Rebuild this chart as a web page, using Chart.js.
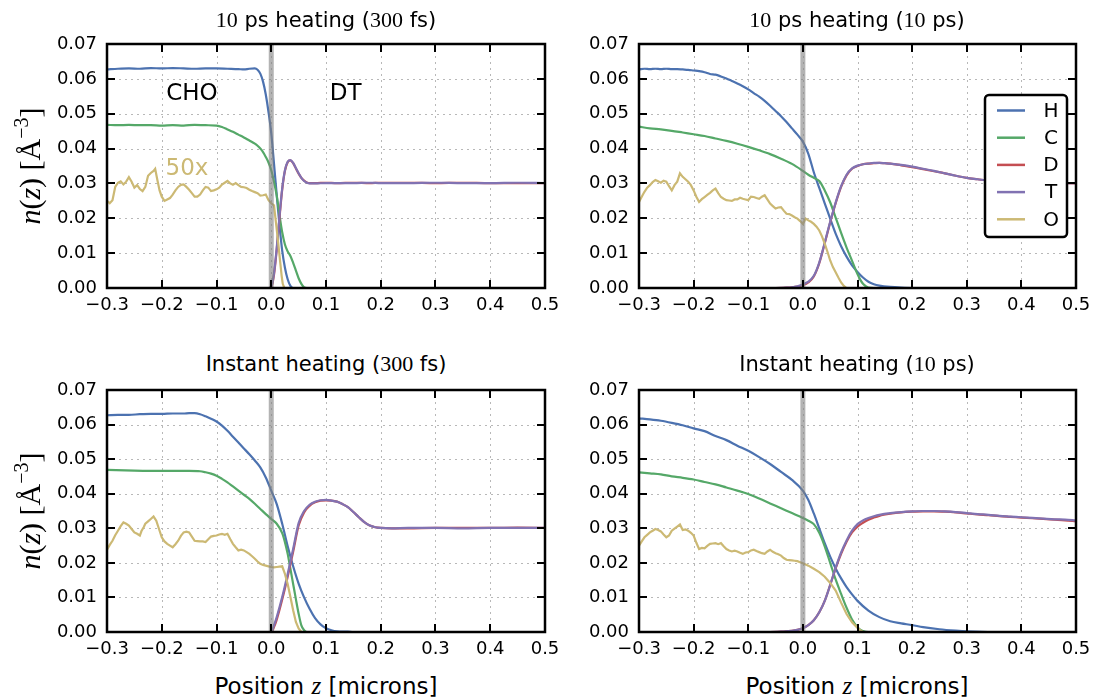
<!DOCTYPE html>
<html>
<head>
<meta charset="utf-8">
<script src="https://cdn.jsdelivr.net/npm/chart.js@4.4.0/dist/chart.umd.min.js"></script>
<style>
html,body{margin:0;padding:0;background:#fff;}
#wrap{position:relative;width:1097px;height:700px;overflow:hidden;font-family:"DejaVu Sans",sans-serif;color:#000;}
canvas{position:absolute;}
.title{position:absolute;font-family:"DejaVu Sans",sans-serif;font-size:21px;line-height:24px;white-space:nowrap;transform:translate(-50%,-50%);z-index:5;}
.s{font-family:"DejaVu Sans",sans-serif;font-size:21px;}
.m{font-family:"Liberation Serif",serif;font-size:22px;}
.ylab{position:absolute;white-space:nowrap;font-family:"Liberation Serif",serif;font-size:30px;line-height:32px;transform:translate(-50%,-50%) rotate(-90deg);z-index:5;}
.ylab sup{font-size:20px;vertical-align:12px;line-height:0;}
.xlab{position:absolute;white-space:nowrap;font-family:"DejaVu Sans",sans-serif;font-size:23px;line-height:26px;transform:translate(-50%,-50%);z-index:5;}
.xlab i{font-family:"Liberation Serif",serif;font-size:25px;}
</style>
</head>
<body>
<div id="wrap">
  <canvas id="c1"></canvas><canvas id="c2"></canvas><canvas id="c3"></canvas><canvas id="c4"></canvas>
  <div class="title" style="left:326px;top:20px;"><span class="m">10</span><span class="s"> ps heating (</span><span class="m">300</span><span class="s"> fs)</span></div>
  <div class="title" style="left:857px;top:20px;"><span class="m">10</span><span class="s"> ps heating (</span><span class="m">10</span><span class="s"> ps)</span></div>
  <div class="title" style="left:326px;top:364px;"><span class="s">Instant heating (</span><span class="m">300</span><span class="s"> fs)</span></div>
  <div class="title" style="left:857px;top:364px;"><span class="s">Instant heating (</span><span class="m">10</span><span class="s"> ps)</span></div>
  <div class="ylab" style="left:30px;top:166px;"><i>n</i>(<i>z</i>) [Å<sup>−3</sup>]</div>
  <div class="ylab" style="left:30px;top:511px;"><i>n</i>(<i>z</i>) [Å<sup>−3</sup>]</div>
  <div class="xlab" style="left:326px;top:686px;">Position <i>z</i> [microns]</div>
  <div class="xlab" style="left:857px;top:686px;">Position <i>z</i> [microns]</div>
</div>
<script>
// ---------------- DATA ----------------
const X_TICKS = [-0.3,-0.2,-0.1,0.0,0.1,0.2,0.3,0.4,0.5];
const Y_TICKS = [0.00,0.01,0.02,0.03,0.04,0.05,0.06,0.07];
const SPECIES = ['H','C','D','T','O'];
const BAND_X = 0.0;

// Panel 1: 10 ps heating (300 fs)
const H_1 = [[-0.30,0.0627],[-0.28,0.0629],[-0.26,0.0630],[-0.24,0.0629],[-0.22,0.0631],[-0.20,0.0630],[-0.18,0.0631],[-0.16,0.0630],[-0.14,0.0629],[-0.12,0.0630],[-0.10,0.0630],[-0.08,0.0629],[-0.06,0.0628],[-0.05,0.0627],[-0.04,0.0629],[-0.03,0.0630],[-0.025,0.0626],[-0.02,0.0615],[-0.015,0.0592],[-0.01,0.0555],[-0.005,0.0505],[0.0,0.0444],[0.005,0.0357],[0.01,0.0267],[0.015,0.0181],[0.02,0.0107],[0.025,0.0058],[0.03,0.0025],[0.035,0.0006],[0.04,0.0],[0.5,0.0]];
const C_1 = [[-0.30,0.0468],[-0.28,0.0467],[-0.26,0.0468],[-0.24,0.0467],[-0.22,0.0467],[-0.20,0.0466],[-0.18,0.0467],[-0.16,0.0466],[-0.14,0.0468],[-0.12,0.0467],[-0.10,0.0466],[-0.09,0.0462],[-0.08,0.0455],[-0.07,0.0448],[-0.06,0.0440],[-0.05,0.0432],[-0.04,0.0423],[-0.03,0.0414],[-0.025,0.0408],[-0.02,0.0400],[-0.015,0.0390],[-0.01,0.0376],[-0.005,0.0360],[0.0,0.0338],[0.005,0.0305],[0.01,0.0265],[0.015,0.0210],[0.02,0.0160],[0.025,0.0125],[0.03,0.0105],[0.035,0.0092],[0.04,0.0072],[0.045,0.0050],[0.05,0.0028],[0.055,0.0012],[0.06,0.0002],[0.065,0.0],[0.5,0.0]];
const D_1 = [[-0.30,0.0],[-0.005,0.0],[0.0,0.0003],[0.005,0.0038],[0.01,0.0110],[0.015,0.0200],[0.02,0.0282],[0.025,0.0336],[0.03,0.0361],[0.035,0.0366],[0.04,0.0358],[0.045,0.0343],[0.05,0.0328],[0.055,0.0316],[0.06,0.0308],[0.065,0.0303],[0.07,0.0301],[0.08,0.0301],[0.10,0.0302],[0.12,0.0301],[0.15,0.0302],[0.18,0.0301],[0.20,0.0302],[0.25,0.0302],[0.30,0.0301],[0.35,0.0302],[0.40,0.0301],[0.45,0.0301],[0.50,0.0301]];
const T_1 = [[-0.30,0.0],[-0.005,0.0],[0.0,0.0004],[0.005,0.0042],[0.01,0.0115],[0.015,0.0205],[0.02,0.0286],[0.025,0.0338],[0.03,0.0362],[0.035,0.0367],[0.04,0.0359],[0.045,0.0344],[0.05,0.0329],[0.055,0.0316],[0.06,0.0307],[0.065,0.0302],[0.07,0.0300],[0.08,0.0300],[0.10,0.0301],[0.12,0.0301],[0.15,0.0301],[0.18,0.0302],[0.20,0.0301],[0.25,0.0301],[0.30,0.0302],[0.35,0.0301],[0.40,0.0301],[0.45,0.0302],[0.50,0.0301]];
const O_1 = [[-0.300,0.0250],[-0.295,0.0243],[-0.290,0.0252],[-0.285,0.0290],[-0.280,0.0302],[-0.275,0.0306],[-0.270,0.0297],[-0.265,0.0305],[-0.260,0.0318],[-0.255,0.0305],[-0.250,0.0288],[-0.245,0.0295],[-0.240,0.0284],[-0.235,0.0278],[-0.230,0.0290],[-0.225,0.0322],[-0.220,0.0330],[-0.215,0.0336],[-0.212,0.0342],[-0.208,0.0310],[-0.204,0.0280],[-0.200,0.0262],[-0.195,0.0250],[-0.190,0.0254],[-0.185,0.0258],[-0.180,0.0268],[-0.175,0.0280],[-0.170,0.0290],[-0.165,0.0296],[-0.160,0.0297],[-0.155,0.0290],[-0.150,0.0282],[-0.145,0.0272],[-0.140,0.0262],[-0.135,0.0262],[-0.130,0.0268],[-0.125,0.0280],[-0.120,0.0290],[-0.115,0.0288],[-0.110,0.0278],[-0.105,0.0280],[-0.100,0.0283],[-0.095,0.0288],[-0.090,0.0297],[-0.085,0.0302],[-0.080,0.0307],[-0.075,0.0300],[-0.070,0.0296],[-0.065,0.0301],[-0.060,0.0295],[-0.055,0.0290],[-0.050,0.0289],[-0.045,0.0287],[-0.040,0.0282],[-0.035,0.0278],[-0.030,0.0275],[-0.025,0.0272],[-0.020,0.0265],[-0.015,0.0266],[-0.010,0.0268],[-0.005,0.0252],[0.000,0.0243],[0.005,0.0237],[0.0095,0.0175],[0.013,0.0125],[0.016,0.0079],[0.019,0.0035],[0.021,0.0012],[0.024,0.0],[0.5,0.0]];

// Panel 2: 10 ps heating (10 ps)
const H_2 = [[-0.30,0.0627],[-0.29,0.0629],[-0.28,0.0628],[-0.27,0.0629],[-0.26,0.0628],[-0.25,0.0629],[-0.24,0.0628],[-0.23,0.0628],[-0.22,0.0627],[-0.21,0.0626],[-0.20,0.0624],[-0.19,0.0622],[-0.18,0.0619],[-0.17,0.0614],[-0.16,0.0612],[-0.15,0.0607],[-0.14,0.0601],[-0.13,0.0594],[-0.12,0.0587],[-0.11,0.0579],[-0.10,0.0570],[-0.09,0.0559],[-0.08,0.0549],[-0.07,0.0537],[-0.06,0.0523],[-0.05,0.0508],[-0.04,0.0493],[-0.03,0.0476],[-0.02,0.0458],[-0.01,0.0440],[0.00,0.0420],[0.01,0.0385],[0.02,0.0332],[0.03,0.0287],[0.04,0.0243],[0.05,0.0199],[0.06,0.0156],[0.07,0.0120],[0.08,0.0090],[0.09,0.0065],[0.10,0.0046],[0.11,0.0030],[0.12,0.0018],[0.13,0.0011],[0.14,0.0007],[0.16,0.0003],[0.18,0.0001],[0.20,0.0],[0.50,0.0]];
const C_2 = [[-0.30,0.0463],[-0.28,0.0458],[-0.26,0.0455],[-0.24,0.0451],[-0.22,0.0446],[-0.20,0.0441],[-0.18,0.0436],[-0.16,0.0429],[-0.14,0.0422],[-0.12,0.0414],[-0.10,0.0405],[-0.08,0.0395],[-0.06,0.0384],[-0.04,0.0371],[-0.02,0.0356],[0.00,0.0336],[0.01,0.0325],[0.02,0.0316],[0.03,0.0307],[0.04,0.0280],[0.05,0.0246],[0.06,0.0202],[0.07,0.0158],[0.08,0.0116],[0.09,0.0078],[0.10,0.0040],[0.105,0.0024],[0.11,0.0012],[0.115,0.0005],[0.12,0.0001],[0.13,0.0],[0.50,0.0]];
const D_2 = [[-0.30,0.0],[-0.05,0.0],[-0.03,0.0001],[-0.02,0.0002],[-0.01,0.0004],[0.00,0.0008],[0.01,0.0016],[0.02,0.0033],[0.03,0.0071],[0.04,0.0128],[0.05,0.0188],[0.06,0.0243],[0.07,0.0290],[0.08,0.0323],[0.09,0.0342],[0.10,0.0350],[0.11,0.0355],[0.12,0.0357],[0.13,0.0358],[0.14,0.0359],[0.15,0.0358],[0.16,0.0357],[0.18,0.0352],[0.20,0.0347],[0.22,0.0341],[0.24,0.0335],[0.26,0.0329],[0.28,0.0322],[0.30,0.0316],[0.32,0.0312],[0.34,0.0308],[0.36,0.0305],[0.38,0.0303],[0.40,0.0302],[0.45,0.0301],[0.50,0.0300]];
const T_2 = [[-0.30,0.0],[-0.05,0.0],[-0.03,0.0001],[-0.02,0.0002],[-0.01,0.0005],[0.00,0.0010],[0.01,0.0018],[0.02,0.0035],[0.03,0.0073],[0.04,0.0130],[0.05,0.0190],[0.06,0.0245],[0.07,0.0292],[0.08,0.0325],[0.09,0.0343],[0.10,0.0351],[0.11,0.0355],[0.12,0.0357],[0.13,0.0359],[0.14,0.0359],[0.15,0.0358],[0.16,0.0357],[0.18,0.0353],[0.20,0.0348],[0.22,0.0342],[0.24,0.0336],[0.26,0.0329],[0.28,0.0322],[0.30,0.0316],[0.32,0.0312],[0.34,0.0308],[0.36,0.0305],[0.38,0.0303],[0.40,0.0302],[0.45,0.0301],[0.50,0.0301]];
const O_2 = [[-0.300,0.0247],[-0.295,0.0262],[-0.290,0.0276],[-0.285,0.0288],[-0.280,0.0295],[-0.275,0.0304],[-0.270,0.0310],[-0.265,0.0306],[-0.260,0.0302],[-0.255,0.0308],[-0.250,0.0305],[-0.245,0.0292],[-0.240,0.0280],[-0.235,0.0295],[-0.230,0.0305],[-0.225,0.0329],[-0.220,0.0319],[-0.215,0.0312],[-0.210,0.0305],[-0.205,0.0295],[-0.200,0.0280],[-0.195,0.0262],[-0.190,0.0247],[-0.185,0.0255],[-0.180,0.0261],[-0.175,0.0267],[-0.170,0.0273],[-0.165,0.0280],[-0.160,0.0285],[-0.155,0.0272],[-0.150,0.0261],[-0.145,0.0256],[-0.140,0.0252],[-0.135,0.0251],[-0.130,0.0250],[-0.125,0.0254],[-0.120,0.0254],[-0.115,0.0259],[-0.110,0.0256],[-0.105,0.0254],[-0.100,0.0252],[-0.095,0.0262],[-0.090,0.0261],[-0.085,0.0258],[-0.080,0.0256],[-0.075,0.0262],[-0.070,0.0266],[-0.065,0.0254],[-0.060,0.0242],[-0.055,0.0235],[-0.050,0.0228],[-0.045,0.0231],[-0.040,0.0232],[-0.035,0.0222],[-0.030,0.0213],[-0.025,0.0212],[-0.020,0.0208],[-0.015,0.0203],[-0.010,0.0199],[-0.005,0.0192],[0.000,0.0184],[0.005,0.0199],[0.010,0.0194],[0.015,0.0190],[0.020,0.0184],[0.025,0.0176],[0.030,0.0165],[0.035,0.0148],[0.040,0.0127],[0.045,0.0104],[0.050,0.0079],[0.055,0.0060],[0.060,0.0045],[0.065,0.0030],[0.070,0.0016],[0.075,0.0006],[0.080,0.0],[0.50,0.0]];

// Panel 3: Instant heating (300 fs)
const H_3 = [[-0.30,0.0627],[-0.28,0.0628],[-0.26,0.0628],[-0.24,0.0630],[-0.22,0.0631],[-0.20,0.0631],[-0.18,0.0632],[-0.16,0.0632],[-0.15,0.0633],[-0.14,0.0633],[-0.13,0.0630],[-0.12,0.0624],[-0.11,0.0617],[-0.10,0.0609],[-0.09,0.0597],[-0.08,0.0582],[-0.07,0.0565],[-0.06,0.0548],[-0.05,0.0531],[-0.04,0.0514],[-0.03,0.0496],[-0.02,0.0476],[-0.01,0.0447],[0.00,0.0409],[0.01,0.0370],[0.02,0.0313],[0.03,0.0248],[0.04,0.0190],[0.05,0.0140],[0.06,0.0100],[0.07,0.0067],[0.08,0.0040],[0.09,0.0022],[0.10,0.0011],[0.11,0.0005],[0.12,0.0002],[0.14,0.0001],[0.15,0.0],[0.50,0.0]];
const C_3 = [[-0.30,0.0469],[-0.25,0.0467],[-0.20,0.0466],[-0.15,0.0466],[-0.13,0.0465],[-0.12,0.0462],[-0.11,0.0458],[-0.10,0.0452],[-0.09,0.0443],[-0.08,0.0433],[-0.07,0.0421],[-0.06,0.0409],[-0.05,0.0397],[-0.04,0.0385],[-0.03,0.0371],[-0.02,0.0356],[-0.01,0.0341],[0.00,0.0327],[0.01,0.0313],[0.02,0.0286],[0.025,0.0260],[0.03,0.0226],[0.035,0.0183],[0.04,0.0139],[0.045,0.0095],[0.05,0.0053],[0.055,0.0019],[0.06,0.0005],[0.065,0.0],[0.50,0.0]];
const D_3 = [[-0.30,0.0],[0.00,0.0],[0.005,0.0014],[0.01,0.0036],[0.02,0.0094],[0.03,0.0160],[0.04,0.0232],[0.05,0.0308],[0.06,0.0346],[0.07,0.0365],[0.08,0.0375],[0.09,0.0380],[0.10,0.0381],[0.11,0.0380],[0.12,0.0377],[0.13,0.0370],[0.14,0.0361],[0.15,0.0347],[0.16,0.0332],[0.17,0.0318],[0.18,0.0308],[0.19,0.0303],[0.20,0.0301],[0.22,0.0300],[0.25,0.0300],[0.30,0.0301],[0.35,0.0301],[0.40,0.0301],[0.45,0.0302],[0.50,0.0301]];
const T_3 = [[-0.30,0.0],[0.00,0.0],[0.005,0.0019],[0.01,0.0043],[0.02,0.0101],[0.03,0.0168],[0.04,0.0240],[0.05,0.0315],[0.06,0.0350],[0.07,0.0368],[0.08,0.0377],[0.09,0.0381],[0.10,0.0382],[0.11,0.0380],[0.12,0.0377],[0.13,0.0370],[0.14,0.0361],[0.15,0.0347],[0.16,0.0332],[0.17,0.0318],[0.18,0.0308],[0.19,0.0303],[0.20,0.0301],[0.22,0.0300],[0.25,0.0301],[0.30,0.0301],[0.35,0.0300],[0.40,0.0301],[0.45,0.0301],[0.50,0.0301]];
const O_3 = [[-0.300,0.0238],[-0.295,0.0252],[-0.290,0.0264],[-0.285,0.0280],[-0.280,0.0293],[-0.275,0.0306],[-0.270,0.0317],[-0.265,0.0313],[-0.260,0.0308],[-0.255,0.0298],[-0.250,0.0288],[-0.245,0.0284],[-0.240,0.0279],[-0.237,0.0292],[-0.233,0.0303],[-0.230,0.0313],[-0.225,0.0320],[-0.220,0.0327],[-0.215,0.0334],[-0.210,0.0322],[-0.205,0.0298],[-0.200,0.0274],[-0.195,0.0262],[-0.190,0.0255],[-0.185,0.0250],[-0.180,0.0245],[-0.175,0.0254],[-0.170,0.0264],[-0.165,0.0278],[-0.160,0.0288],[-0.155,0.0290],[-0.150,0.0288],[-0.145,0.0276],[-0.140,0.0264],[-0.135,0.0263],[-0.130,0.0262],[-0.125,0.0262],[-0.120,0.0260],[-0.115,0.0268],[-0.110,0.0276],[-0.105,0.0278],[-0.100,0.0279],[-0.095,0.0282],[-0.090,0.0284],[-0.085,0.0281],[-0.080,0.0284],[-0.075,0.0269],[-0.070,0.0255],[-0.065,0.0245],[-0.060,0.0236],[-0.055,0.0238],[-0.050,0.0236],[-0.045,0.0231],[-0.040,0.0226],[-0.035,0.0219],[-0.030,0.0212],[-0.025,0.0204],[-0.020,0.0197],[-0.015,0.0194],[-0.010,0.0192],[-0.005,0.0190],[0.000,0.0188],[0.005,0.0187],[0.010,0.0188],[0.015,0.0189],[0.020,0.0190],[0.025,0.0168],[0.030,0.0139],[0.035,0.0101],[0.040,0.0063],[0.045,0.0029],[0.050,0.0010],[0.055,0.0],[0.50,0.0]];

// Panel 4: Instant heating (10 ps)
const H_4 = [[-0.30,0.0618],[-0.28,0.0615],[-0.26,0.0611],[-0.24,0.0605],[-0.22,0.0598],[-0.20,0.0589],[-0.18,0.0581],[-0.16,0.0567],[-0.14,0.0555],[-0.12,0.0539],[-0.10,0.0524],[-0.08,0.0506],[-0.06,0.0486],[-0.04,0.0463],[-0.02,0.0440],[0.00,0.0409],[0.01,0.0382],[0.02,0.0343],[0.03,0.0300],[0.04,0.0257],[0.05,0.0218],[0.06,0.0184],[0.07,0.0155],[0.08,0.0130],[0.09,0.0109],[0.10,0.0090],[0.12,0.0062],[0.14,0.0043],[0.16,0.0031],[0.18,0.0025],[0.20,0.0020],[0.22,0.0014],[0.25,0.0008],[0.28,0.0004],[0.30,0.0002],[0.35,0.0],[0.50,0.0]];
const C_4 = [[-0.30,0.0462],[-0.28,0.0459],[-0.26,0.0456],[-0.24,0.0450],[-0.22,0.0446],[-0.20,0.0441],[-0.18,0.0434],[-0.16,0.0427],[-0.14,0.0418],[-0.12,0.0409],[-0.10,0.0399],[-0.08,0.0386],[-0.06,0.0372],[-0.04,0.0358],[-0.02,0.0344],[0.00,0.0330],[0.01,0.0322],[0.02,0.0312],[0.03,0.0287],[0.04,0.0248],[0.05,0.0200],[0.06,0.0152],[0.07,0.0110],[0.08,0.0070],[0.09,0.0036],[0.10,0.0014],[0.105,0.0007],[0.11,0.0003],[0.12,0.0],[0.50,0.0]];
const D_4 = [[-0.30,0.0],[-0.06,0.0],[-0.04,0.0001],[-0.02,0.0003],[-0.01,0.0006],[0.00,0.0011],[0.01,0.0020],[0.02,0.0034],[0.03,0.0057],[0.04,0.0090],[0.05,0.0136],[0.06,0.0184],[0.07,0.0226],[0.08,0.0261],[0.09,0.0288],[0.10,0.0305],[0.11,0.0316],[0.12,0.0325],[0.13,0.0331],[0.14,0.0336],[0.16,0.0342],[0.18,0.0346],[0.20,0.0348],[0.22,0.0349],[0.24,0.0349],[0.26,0.0348],[0.28,0.0346],[0.30,0.0343],[0.32,0.0340],[0.34,0.0338],[0.36,0.0335],[0.38,0.0333],[0.40,0.0331],[0.42,0.0329],[0.44,0.0327],[0.46,0.0325],[0.48,0.0323],[0.50,0.0320]];
const T_4 = [[-0.30,0.0],[-0.06,0.0],[-0.04,0.0001],[-0.02,0.0003],[-0.01,0.0006],[0.00,0.0011],[0.01,0.0020],[0.02,0.0034],[0.03,0.0057],[0.04,0.0090],[0.05,0.0136],[0.06,0.0186],[0.07,0.0230],[0.08,0.0265],[0.09,0.0293],[0.10,0.0312],[0.11,0.0323],[0.12,0.0330],[0.13,0.0335],[0.14,0.0339],[0.16,0.0344],[0.18,0.0347],[0.20,0.0349],[0.22,0.0350],[0.24,0.0350],[0.26,0.0349],[0.28,0.0347],[0.30,0.0344],[0.32,0.0341],[0.34,0.0339],[0.36,0.0336],[0.38,0.0334],[0.40,0.0332],[0.42,0.0330],[0.44,0.0328],[0.46,0.0326],[0.48,0.0325],[0.50,0.0323]];
const O_4 = [[-0.300,0.0250],[-0.295,0.0262],[-0.290,0.0274],[-0.285,0.0281],[-0.280,0.0288],[-0.275,0.0293],[-0.270,0.0298],[-0.265,0.0295],[-0.260,0.0291],[-0.255,0.0282],[-0.250,0.0274],[-0.245,0.0279],[-0.240,0.0293],[-0.235,0.0299],[-0.230,0.0305],[-0.225,0.0311],[-0.220,0.0295],[-0.215,0.0297],[-0.210,0.0293],[-0.205,0.0287],[-0.200,0.0279],[-0.195,0.0258],[-0.190,0.0240],[-0.185,0.0243],[-0.180,0.0242],[-0.175,0.0249],[-0.170,0.0255],[-0.165,0.0256],[-0.160,0.0257],[-0.155,0.0254],[-0.150,0.0257],[-0.145,0.0248],[-0.140,0.0240],[-0.135,0.0236],[-0.130,0.0233],[-0.125,0.0235],[-0.120,0.0233],[-0.115,0.0229],[-0.110,0.0226],[-0.105,0.0230],[-0.100,0.0231],[-0.095,0.0236],[-0.090,0.0238],[-0.085,0.0234],[-0.080,0.0231],[-0.075,0.0228],[-0.070,0.0226],[-0.065,0.0233],[-0.060,0.0238],[-0.055,0.0232],[-0.050,0.0228],[-0.045,0.0225],[-0.040,0.0221],[-0.035,0.0214],[-0.030,0.0209],[-0.025,0.0208],[-0.020,0.0207],[-0.015,0.0206],[-0.010,0.0205],[-0.005,0.0202],[0.000,0.0199],[0.010,0.0192],[0.020,0.0183],[0.030,0.0173],[0.040,0.0160],[0.050,0.0142],[0.060,0.0120],[0.070,0.0085],[0.080,0.0052],[0.090,0.0028],[0.100,0.0012],[0.105,0.0005],[0.110,0.0],[0.50,0.0]];

// annotation texts for panel 1 (position in data units)
const NOTES_1 = [{text:'CHO', x:-0.145, y:0.0556, color:'#000000'},{text:'DT', x:0.136, y:0.0556, color:'#000000'},{text:'50x', x:-0.154, y:0.0340, color:'#ccb974'}];

// ---------------- STYLE ----------------
const COLORS = ['#4c72b0','#55a868','#c44e52','#8172b2','#ccb974'];
const AX_W = 100, AX_H = 30, PAD = {left:7, right:22, top:14, bottom:4};

function fmt(v, d){ const s = Math.abs(v).toFixed(d); return (v < -1e-9 ? '\u2212' : '') + s; }

const framePlugin = {
  id:'frame',
  beforeDatasetsDraw(chart){
    const {ctx, chartArea:a, scales:{x,y}} = chart;
    ctx.save();
    ctx.strokeStyle = '#b8b8b8'; ctx.lineWidth = 1; ctx.setLineDash([2,4]);
    X_TICKS.forEach(v=>{ const p = Math.round(x.getPixelForValue(v))+0.5; ctx.beginPath(); ctx.moveTo(p,a.top); ctx.lineTo(p,a.bottom); ctx.stroke(); });
    Y_TICKS.forEach(v=>{ const p = Math.round(y.getPixelForValue(v))+0.5; ctx.beginPath(); ctx.moveTo(a.left,p); ctx.lineTo(a.right,p); ctx.stroke(); });
    ctx.restore();
  },
  afterDatasetsDraw(chart){
    const {ctx, chartArea:a, scales:{x,y}} = chart;
    ctx.save();
    ctx.strokeStyle = '#000'; ctx.lineWidth = 2; ctx.setLineDash([]);
    const L = 8;
    X_TICKS.forEach(v=>{ const p = Math.round(x.getPixelForValue(v)); ctx.beginPath(); ctx.moveTo(p,a.bottom); ctx.lineTo(p,a.bottom-L); ctx.moveTo(p,a.top); ctx.lineTo(p,a.top+L); ctx.stroke(); });
    Y_TICKS.forEach(v=>{ const p = Math.round(y.getPixelForValue(v)); ctx.beginPath(); ctx.moveTo(a.left,p); ctx.lineTo(a.left+L,p); ctx.moveTo(a.right,p); ctx.lineTo(a.right-L,p); ctx.stroke(); });
    ctx.lineWidth = 2.5;
    ctx.strokeRect(a.left, a.top, a.right-a.left, a.bottom-a.top);
    // annotations
    const notes = chart.options.plugins.frame && chart.options.plugins.frame.notes;
    if (notes) {
      ctx.font = '23px "DejaVu Sans"'; ctx.textAlign = 'center'; ctx.textBaseline = 'middle';
      notes.forEach(n=>{ ctx.fillStyle = n.color; ctx.fillText(n.text, x.getPixelForValue(n.x), y.getPixelForValue(n.y)); });
    }
    // legend
    if (chart.options.plugins.frame && chart.options.plugins.frame.legend) {
      const bw = 82, bh = 142;
      const bx = a.right - 9 - bw, by = a.top + 51;
      ctx.fillStyle = '#fff'; ctx.strokeStyle = '#000'; ctx.lineWidth = 2.5;
      ctx.beginPath(); ctx.roundRect(bx, by, bw, bh, 4); ctx.fill(); ctx.stroke();
      ctx.font = '20px "DejaVu Sans"'; ctx.textAlign = 'center'; ctx.textBaseline = 'middle';
      chart.data.datasets.filter(d=>SPECIES.includes(d.label)).forEach((d,i)=>{
        const yy = by + 15.5 + i*27.2;
        ctx.strokeStyle = d.borderColor; ctx.lineWidth = 2.5;
        ctx.beginPath(); ctx.moveTo(bx+12, yy); ctx.lineTo(bx+40, yy); ctx.stroke();
        ctx.fillStyle = '#000'; ctx.fillText(d.label, bx+66, yy+1);
      });
    }
    ctx.restore();
  }
};

function build(id, area, series, extra){
  const cv = document.getElementById(id);
  cv.width = (area.r - area.l) + AX_W + PAD.left + PAD.right;
  cv.height = (area.b - area.t) + AX_H + PAD.top + PAD.bottom;
  cv.style.left = (area.l - AX_W - PAD.left) + 'px';
  cv.style.top = (area.t - PAD.top) + 'px';
  const datasets = series.map((arr,i)=>({
    label: SPECIES[i],
    data: arr.map(p=>({x:p[0], y:p[1]})),
    borderColor: COLORS[i], backgroundColor: COLORS[i],
    borderWidth: 2.2, pointRadius: 0, fill: false,
    cubicInterpolationMode: i===4 ? 'default' : 'monotone', tension: 0,
    order: 10 - i
  }));
  datasets.push({label:'_band', data:[{x:BAND_X,y:Y_TICKS[0]},{x:BAND_X,y:Y_TICKS[Y_TICKS.length-1]}], borderColor:'rgba(128,128,128,0.6)', borderWidth:5, pointRadius:0, fill:false, order:0});
  return new Chart(cv, {
    type:'line',
    data:{datasets},
    options:{
      responsive:false, animation:false, devicePixelRatio:1,
      layout:{padding:PAD},
      plugins:{legend:{display:false}, tooltip:{enabled:false}, title:{display:false}, frame: extra||{}},
      scales:{
        x:{type:'linear', min:X_TICKS[0], max:X_TICKS[X_TICKS.length-1],
           grid:{display:false, drawTicks:false}, border:{display:false},
           ticks:{color:'#000', font:{family:'DejaVu Sans', size:18}, padding:7, maxRotation:0, autoSkip:false, callback:(v)=>fmt(v,1)},
           afterBuildTicks:(s)=>{ s.ticks = X_TICKS.map(v=>({value:v})); },
           afterFit:(s)=>{ s.height = AX_H; s.paddingLeft = 0; s.paddingRight = 0; }},
        y:{type:'linear', min:Y_TICKS[0], max:Y_TICKS[Y_TICKS.length-1],
           grid:{display:false, drawTicks:false}, border:{display:false},
           ticks:{color:'#000', font:{family:'DejaVu Sans', size:18}, padding:10, autoSkip:false, callback:(v)=>fmt(v,2)},
           afterBuildTicks:(s)=>{ s.ticks = Y_TICKS.map(v=>({value:v})); },
           afterFit:(s)=>{ s.width = AX_W; s.paddingTop = 0; s.paddingBottom = 0; }}
      }
    },
    plugins:[framePlugin]
  });
}

build('c1', {l:107,t:44,r:545,b:288}, [H_1,C_1,D_1,T_1,O_1], {notes:NOTES_1});
build('c2', {l:639,t:44,r:1076,b:288}, [H_2,C_2,D_2,T_2,O_2], {legend:true});
build('c3', {l:107,t:390,r:545,b:632}, [H_3,C_3,D_3,T_3,O_3]);
build('c4', {l:639,t:390,r:1076,b:632}, [H_4,C_4,D_4,T_4,O_4]);
</script>
</body>
</html>
